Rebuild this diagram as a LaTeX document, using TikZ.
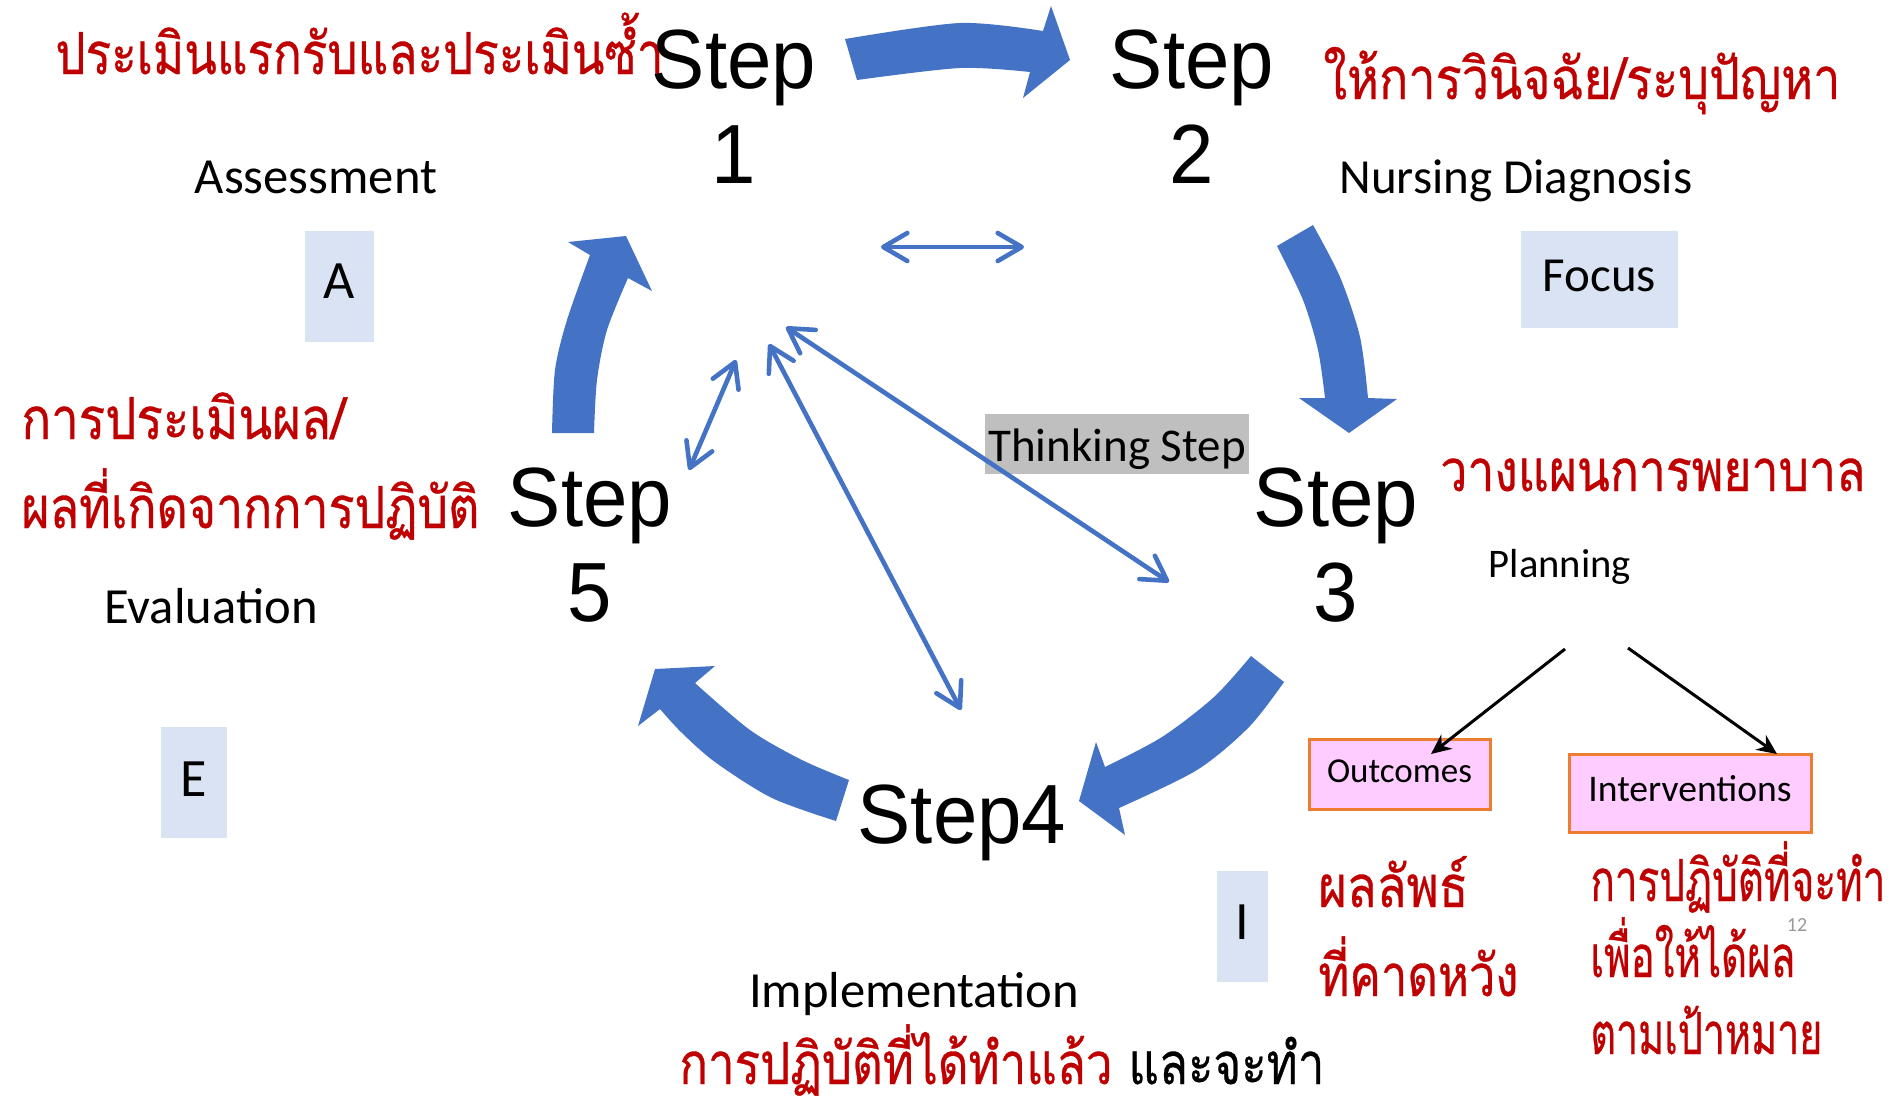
\documentclass[tikz,border=0pt]{standalone}
\usepackage{fontspec}
\usepackage{graphicx}
\setmainfont{Carlito}
\newfontfamily\stepfont[FakeStretch=0.95]{Liberation Sans}
\newfontfamily\thaifont[Script=Thai,FakeBold=0.6]{Loma}
\usetikzlibrary{arrows.meta}
\definecolor{arrowblue}{HTML}{4472C4}
\definecolor{thaired}{HTML}{C00000}
\definecolor{boxblue}{HTML}{DAE3F3}
\definecolor{boxgray}{HTML}{BFBFBF}
\definecolor{boxpink}{HTML}{FFCCFF}
\definecolor{boxorange}{HTML}{ED7D31}
\newcommand{\thaifit}[2]{\resizebox{#1}{\height}{#2}}
\tikzset{
  steplabel/.style={font=\stepfont\fontsize{42}{47.5}\selectfont, align=center, inner sep=0pt, anchor=base},
  lab/.style={font=\fontsize{25.3}{30}\selectfont, inner sep=0pt, anchor=base},
  thai/.style={font=\thaifont\fontsize{29}{34}\selectfont, text=thaired, inner sep=0pt, anchor=base west},
  letterbox/.style={fill=boxblue, inner sep=0pt, font=\fontsize{27}{32}\selectfont},
  pinkbox/.style={fill=boxpink, draw=boxorange, line width=1.5pt, inner sep=0pt},
  thinarrow/.style={draw=arrowblue, line width=2.3pt, line cap=round,
    arrows={Straight Barb[length=12pt,width=14pt,round]-Straight Barb[length=12pt,width=14pt,round]}},
  planarrow/.style={draw=black, line width=1.5pt, -{Stealth[length=10pt,width=9pt]}},
  bigarrow/.style={fill=arrowblue}
}
\begin{document}
\begin{tikzpicture}[x=0.5pt,y=-0.5pt]
\useasboundingbox (0,0) rectangle (1893,1099);
\fill[white] (0,0) rectangle (1893,1099);

% big circular arrows
\fill[bigarrow] plot[smooth] coordinates {(845,39) (960,23) (1043,31)}
  -- (1051,6) -- (1070,60) -- (1023,98)
  -- plot[smooth] coordinates {(1030,72) (960,68) (857,80)} -- cycle;
\fill[bigarrow] plot[smooth] coordinates {(1313,225) (1340,277) (1360,337) (1368,398)}
  -- (1397,399) -- (1349,433) -- (1299,398)
  -- plot[smooth] coordinates {(1325,398) (1318,350) (1303,300) (1277,246)} -- cycle;
\fill[bigarrow] plot[smooth] coordinates {(1284,682) (1249,727) (1197,770) (1119,808)}
  -- (1125,835) -- (1079,801) -- (1096,742)
  -- plot[smooth] coordinates {(1105,767) (1162,737) (1214,697) (1251,656)} -- cycle;
\fill[bigarrow] plot[smooth] coordinates {(836,821) (772,798) (715,762) (681,732) (660,709)}
  -- (638,726) -- (655,669) -- (715,666)
  -- plot[smooth] coordinates {(695,683) (750,730) (802,760) (849,780)} -- cycle;
\fill[bigarrow] plot[smooth] coordinates {(552,433) (555,370) (567,320) (590,255)}
  -- (568,242) -- (626,236) -- (652,291)
  -- plot[smooth] coordinates {(628,278) (607,330) (597,380) (594,433)} -- cycle;

% thai texts
\node[thai] (t1) at (55,74) {\thaifit{304pt}{ประเมินแรกรับและประเมินซ้ำ}};
\node[thai] (t2) at (1323,99) {\thaifit{258.5pt}{ให้การวินิจฉัย/ระบุปัญหา}};
\node[thai] (t3) at (21,439) {\thaifit{162pt}{การประเมินผล/}};
\node[thai] (t4) at (21,528) {\thaifit{229pt}{ผลที่เกิดจากการปฏิบัติ}};
\node[thai] (t5) at (1440,491) {\thaifit{212.5pt}{วางแผนการพยาบาล}};
\node[thai] (t6) at (1318,907) {\thaifit{75pt}{ผลลัพธ์}};
\node[thai] (t7) at (1318,996) {\thaifit{100pt}{ที่คาดหวัง}};
\node[thai] (t8) at (1590,901) {\thaifit{147.5pt}{การปฏิบัติที่จะทำ}};
\node[thai] (t9) at (1590,977) {\thaifit{102.5pt}{เพื่อให้ได้ผล}};
\node[thai] (t10) at (1590,1054) {\thaifit{116pt}{ตามเป้าหมาย}};
\node[thai] (t11) at (679,1084) {\thaifit{322.5pt}{การปฏิบัติที่ได้ทำแล้ว \textcolor{black}{และจะทำ}}};

% step labels (anchor base = last line)
\node[steplabel] (s1) at (734,183) {Step\\1};
\node[steplabel] (s2) at (1192,183) {Step\\2};
\node[steplabel] (s3) at (1336,621) {Step\\3};
\node[steplabel] (s5) at (590,621) {Step\\5};
\node[steplabel] (s4) at (962,843) {Step4};

% english labels
\node[lab] (assess) at (316,193) {Assessment};
\node[lab, font=\fontsize{24.5}{29}\selectfont] (nursing) at (1516,193) {Nursing Diagnosis};
\node[lab] (evalu) at (211,623) {Evaluation};
\node[lab] (impl) at (914,1007) {Implementation};
\node[lab, font=\fontsize{20.3}{24}\selectfont] (plan) at (1560,577) {Planning};
\node[lab, font=\fontsize{10}{12}\selectfont, text=black!40] (pagenum) at (1797,931) {12};

% letter boxes
\node[letterbox, minimum width=34.5pt, minimum height=55.5pt, text height=20pt, text depth=8.5pt] (boxA) at (339.5,286.5) {A};
\node[letterbox, minimum width=78.5pt, minimum height=48.5pt, text height=20pt, text depth=8.5pt, font=\fontsize{24.5}{29}\selectfont] (focus) at (1599.5,279.5) {Focus};
\node[letterbox, minimum width=33pt, minimum height=55.5pt, text height=20pt, text depth=6.5pt] (boxE) at (194,782.5) {E};
\node[letterbox, minimum width=25.5pt, minimum height=55.5pt, text height=20pt, text depth=7.5pt] (boxI) at (1242.5,926.5) {I};
\node[fill=boxgray, inner sep=0pt, minimum width=132pt, minimum height=30pt, text height=20pt, text depth=3pt, font=\fontsize{23.5}{28}\selectfont] (think) at (1117,444) {Thinking Step};

% pink boxes
\node[pinkbox, minimum width=90.5pt, minimum height=35pt, text height=14pt, text depth=6pt, font=\fontsize{17.5}{21}\selectfont] (outc) at (1399.5,774) {Outcomes};
\node[pinkbox, minimum width=121pt, minimum height=39pt, text height=14pt, text depth=6pt, font=\fontsize{18.8}{22}\selectfont] (interv) at (1690,793) {Interventions};

% thin double arrows
\coordinate (hL) at (881,247);
\coordinate (hR) at (1024,247);
\coordinate (a5a) at (689,470);
\coordinate (a5b) at (736,360);
\coordinate (a4a) at (769,344);
\coordinate (a4b) at (961,710);
\coordinate (a3a) at (786,327);
\coordinate (a3b) at (1169,582);
\draw[thinarrow] (hL) -- (hR);
\draw[thinarrow] (a5a) -- (a5b);
\draw[thinarrow] (a4a) -- (a4b);
\draw[thinarrow] (a3a) -- (a3b);

% planning arrows
\coordinate (p1) at (1565,649);
\coordinate (p2) at (1628,648);
\coordinate (oc) at (1431,754);
\coordinate (iv) at (1777,754);
\draw[planarrow] (p1) -- (oc);
\draw[planarrow] (p2) -- (iv);
\end{tikzpicture}
\end{document}
